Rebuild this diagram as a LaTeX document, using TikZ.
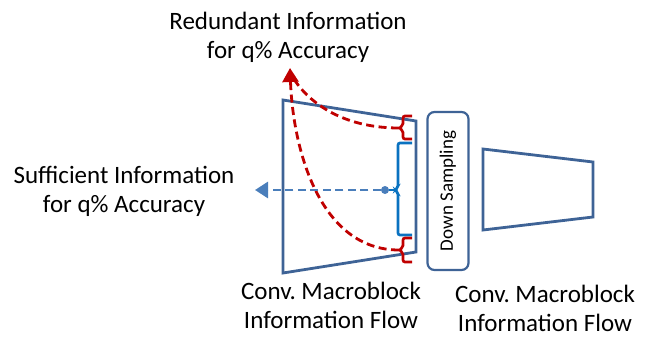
\documentclass[tikz,border=0pt]{standalone}
\usepackage{fontspec}
\setmainfont{Carlito}
\frenchspacing
\usetikzlibrary{positioning, arrows.meta}

\definecolor{flowblue}{HTML}{3E6396}
\definecolor{bracered}{HTML}{C00000}
\definecolor{braceblue}{HTML}{0A72C0}
\definecolor{arrowblue}{HTML}{4A7EBB}

\begin{document}
\begin{tikzpicture}[x=1pt, y=-1pt]
    % Define styles
    \tikzstyle{flow} = [draw=flowblue, line width=2.8pt, line join=miter]
    \tikzstyle{lbl} = [align=center, inner sep=0pt, font=\fontsize{25}{29}\selectfont]
    \tikzstyle{redbrace} = [draw=bracered, line width=2.7pt, rounded corners=2pt]
    \tikzstyle{bluebrace} = [draw=braceblue, line width=2.7pt, rounded corners=2pt]
    \tikzstyle{reddash} = [draw=bracered, line width=2.8pt, dash pattern=on 8pt off 4.5pt]
    \tikzstyle{bluedash} = [draw=arrowblue, line width=2.8pt, dash pattern=on 8pt off 4.5pt]

    \useasboundingbox (0,0) rectangle (645,337);

    % Conv. macroblocks
    \draw[flow] (283,100) -- (416,121) -- (416,252) -- (283,273) -- cycle;
    \draw[flow] (483,149) -- (593,162) -- (593,217) -- (483,230) -- cycle;

    % Down sampling
    \node[draw=flowblue, line width=2.2pt, rounded corners=7pt, rotate=90,
          minimum width=158pt, minimum height=41pt, inner sep=0pt,
          font=\fontsize{19}{22}\selectfont] (ds) at (448,191) {Down Sampling};

    % Brackets
    \draw[redbrace] (412,116) -- (403,116) -- (403,125.5) -- (399,128) -- (403,130.5) -- (403,139) -- (412,139);
    \draw[bluebrace] (412,143) -- (398,143) -- (398,187.5) -- (395,190) -- (398,192.5) -- (398,235) -- (412,235);
    \draw[redbrace] (412,238) -- (403,238) -- (403,247.5) -- (399,250) -- (403,252.5) -- (403,262) -- (412,262);
    \coordinate (rtop) at (399,128);
    \coordinate (rbot) at (399,250);
    \coordinate (btip) at (395,190);

    % Redundant information
    \coordinate (redtip) at (290,68);
    \draw[reddash] (rtop) .. controls (340,128) and (306,100) .. (292,76);
    \draw[reddash, -{Triangle[length=14pt, width=16pt]}] (rbot) .. controls (320,250) and (293,150) .. (redtip);
    \node[lbl] (redlbl) at (288,37) {Redundant Information\\for q\% Accuracy};

    % Sufficient information
    \node[circle, fill=arrowblue, inner sep=0pt, minimum size=8pt] (dot) at (385,190) {};
    \draw[draw=braceblue, line width=2.7pt] (dot) -- (btip);
    \coordinate (sufftip) at (255,190);
    \draw[bluedash, -{Triangle[length=13pt, width=16pt]}] (dot) -- (sufftip);
    \node[lbl] (sufflbl) at (124,191) {Sufficient Information\\for q\% Accuracy};

    % Labels for macroblocks
    \node[lbl] (convA) at (331,305) {Conv. Macroblock\\Information Flow};
    \node[lbl] (convB) at (545,308) {Conv. Macroblock\\Information Flow};
\end{tikzpicture}
\end{document}
